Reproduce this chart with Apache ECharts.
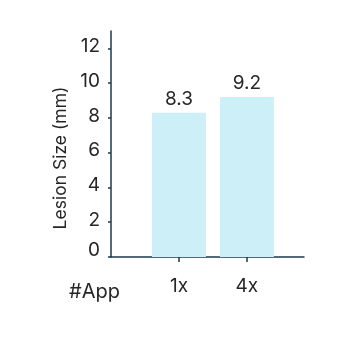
<!DOCTYPE html>
<html><head><meta charset="utf-8">
<script src="https://cdn.jsdelivr.net/npm/echarts@6/dist/echarts.min.js"></script>
<style>html,body{margin:0;padding:0;background:#fff}#c{width:350px;height:350px}</style>
</head><body><div id="c"></div>
<script>
const categories = ['1x', '4x'];
const values = [8.3, 9.2];
const yTicks = [0, 2, 4, 6, 8, 10, 12];
const xTitle = '#App';
const yTitle = 'Lesion Size (mm)';

const font = 'Inter, "Noto Sans", sans-serif';
const axisColor = '#1d3a4a';
const textColor = '#262626';
const fs = 19;
const chart = echarts.init(document.getElementById('c'));
chart.setOption({
  animation: false,
  grid: { left: 111, right: 46, top: 31, bottom: 93 },
  xAxis: {
    type: 'value', min: 0, max: 2.84,
    name: xTitle, nameLocation: 'start', nameGap: -9,
    nameTextStyle: { fontFamily: font, fontSize: 20, color: textColor, verticalAlign: 'top', padding: [25, 0, 0, 0] },
    splitLine: { show: false },
    axisLine: { show: true, lineStyle: { color: axisColor, width: 1.5 } },
    axisTick: { show: true, length: 5, lineStyle: { color: axisColor, width: 1.5 }, customValues: categories.map((c, i) => i + 1) },
    axisLabel: { customValues: categories.map((c, i) => i + 1), formatter: v => categories[Math.round(v) - 1] || '', margin: 20, fontFamily: font, fontSize: fs, color: textColor }
  },
  yAxis: {
    type: 'value', min: 0, max: 13,
    name: yTitle, nameLocation: 'middle', nameGap: 41,
    nameTextStyle: { fontFamily: font, fontSize: 17.5, color: textColor, padding: [0, 28, 0, 0] },
    splitLine: { show: false },
    axisLine: { show: true, lineStyle: { color: axisColor, width: 1.5 } },
    axisTick: { show: true, length: 3, lineStyle: { color: axisColor, width: 1.5 }, customValues: yTicks },
    axisLabel: { customValues: yTicks, margin: 11, fontFamily: font, fontSize: fs, color: textColor,
      formatter: v => v === 0 ? '{z|0}' : '{n|' + v + '}',
      rich: {
        z: { fontFamily: font, fontSize: fs, color: textColor, padding: [0, 0, 14, 0] },
        n: { fontFamily: font, fontSize: fs, color: textColor, padding: [0, 0, 4, 0] }
      } }
  },
  series: [{
    type: 'bar',
    data: values.map((v, i) => [i + 1, v]),
    barWidth: 54,
    itemStyle: { color: '#cdf0f8' },
    label: { show: true, position: 'top', distance: 4, fontFamily: font, fontSize: fs, color: textColor, formatter: p => p.value[1] }
  }]
});
</script></body></html>
